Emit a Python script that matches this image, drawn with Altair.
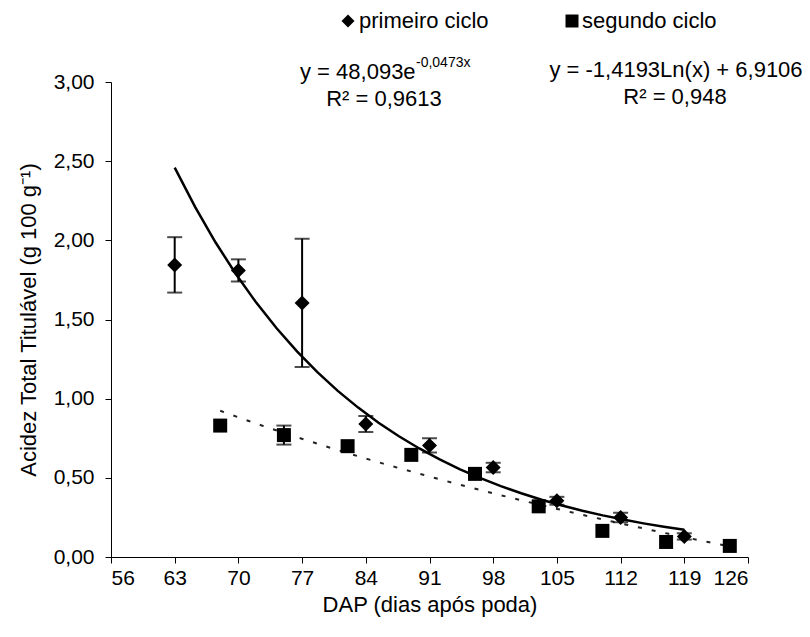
import altair as alt
import pandas as pd

FONT = "Liberation Sans"

# ---- data ----
dap_primeiro = [63, 70, 77, 84, 91, 98, 105, 112, 119]
acidez_primeiro = [1.845, 1.81, 1.605, 0.84, 0.705, 0.565, 0.355, 0.25, 0.13]
erro_primeiro = [0.175, 0.07, 0.405, 0.05, 0.045, 0.03, 0.025, 0.03, 0.02]

dap_segundo = [68, 75, 82, 89, 96, 103, 110, 117, 124]
acidez_segundo = [0.83, 0.77, 0.70, 0.645, 0.525, 0.32, 0.165, 0.095, 0.07]
erro_segundo = [0.0, 0.06, 0.0, 0.0, 0.0, 0.0, 0.0, 0.0, 0.0]

x_ticks = [56, 63, 70, 77, 84, 91, 98, 105, 112, 119, 126]
y_ticks = [0.0, 0.5, 1.0, 1.5, 2.0, 2.5, 3.0]

legend_labels = ["primeiro ciclo", "segundo ciclo"]
eq1_main = "y = 48,093e"
eq1_sup = "-0,0473x"
eq1_r2 = "R² = 0,9613"
eq2_main = "y = -1,4193Ln(x) + 6,9106"
eq2_r2 = "R² = 0,948"
x_title = "DAP (dias após poda)"
y_title = "Acidez Total Titulável (g 100 g⁻¹)"

df1 = pd.DataFrame({"dap": dap_primeiro, "acidez": acidez_primeiro, "erro": erro_primeiro})
df2 = pd.DataFrame({"dap": dap_segundo, "acidez": acidez_segundo, "erro": erro_segundo})

xs = alt.Scale(domain=[56, 126], nice=False, zero=False)
ys = alt.Scale(domain=[0, 3], nice=False)
x_enc = alt.X("dap:Q", scale=xs, axis=alt.Axis(values=x_ticks, title=x_title, labelPadding=4, titlePadding=6))
y_enc = alt.Y("acidez:Q", scale=ys, axis=alt.Axis(values=y_ticks, title=y_title,
                                                   labelExpr="replace(format(datum.value, '.2f'), '.', ',')",
                                                   labelPadding=11, titlePadding=13))

# trend lines (fitted through the library's regression transform)
fit1 = (alt.Chart(df1)
        .transform_calculate(ly="log(datum.acidez)")
        .transform_regression("dap", "ly", method="poly", order=1, extent=[63, 119])
        .transform_calculate(acidez="exp(datum.ly)")
        .mark_line(color="black", strokeWidth=2.5)
        .encode(x=x_enc, y=y_enc))

fit2 = (alt.Chart(df2)
        .transform_regression("dap", "acidez", method="log", extent=[68, 124])
        .mark_line(color="#222222", strokeWidth=2, strokeDash=[4, 10])
        .encode(x=x_enc, y=y_enc))


def errorbars(df):
    base = (alt.Chart(df)
            .transform_filter("datum.erro > 0")
            .transform_calculate(lo="datum.acidez - datum.erro", hi="datum.acidez + datum.erro"))
    rule = base.mark_rule(color="black", strokeWidth=2).encode(
        x=x_enc, y=alt.Y("lo:Q", scale=ys), y2="hi:Q")
    cap_lo = base.mark_tick(color="black", orient="horizontal", size=15, thickness=2).encode(
        x=x_enc, y=alt.Y("lo:Q", scale=ys))
    cap_hi = base.mark_tick(color="black", orient="horizontal", size=15, thickness=2).encode(
        x=x_enc, y=alt.Y("hi:Q", scale=ys))
    return rule + cap_lo + cap_hi


pts1 = alt.Chart(df1).mark_point(shape="diamond", filled=True, size=225, color="black", opacity=1).encode(x=x_enc, y=y_enc)
pts2 = alt.Chart(df2).mark_point(shape="square", filled=True, size=196, color="black", opacity=1).encode(x=x_enc, y=y_enc)


def label(text, x, y, size=22, align="left"):
    return (alt.Chart(pd.DataFrame({"t": [text]}))
            .mark_text(align=align, baseline="middle", fontSize=size, font=FONT, color="black")
            .encode(x=alt.value(x), y=alt.value(y), text="t:N"))


def marker(shape, x, y, size):
    return (alt.Chart(pd.DataFrame({"t": [shape]}))
            .mark_point(shape=shape, filled=True, size=size, color="black", opacity=1)
            .encode(x=alt.value(x), y=alt.value(y)))


annotations = (
    marker("diamond", 237, -61, 170)
    + label(legend_labels[0], 248, -61)
    + marker("square", 461, -61, 169)
    + label(legend_labels[1], 471, -61)
    + label(eq1_main, 189, -10)
    + label(eq1_sup, 305, -19, size=14)
    + label(eq1_r2, 273, 17, align="center")
    + label(eq2_main, 565, -12, align="center")
    + label(eq2_r2, 564, 15, align="center")
)

chart = (
    alt.layer(fit1, fit2, errorbars(df1), errorbars(df2), pts1, pts2, annotations)
    .properties(width=637, height=475,
                autosize=alt.AutoSizeParams(type="none"),
                padding={"left": 103, "top": 74, "right": 54, "bottom": 72})
    .configure_view(stroke=None)
    .configure_axis(labelFont=FONT, titleFont=FONT, labelFontSize=21, titleFontSize=22,
                    labelColor="black", titleColor="black", titleFontWeight="normal",
                    domainColor="black", tickColor="black", tickSize=6, grid=False)
)

chart.save("out.html", embed_options={"renderer": "svg", "actions": False})
